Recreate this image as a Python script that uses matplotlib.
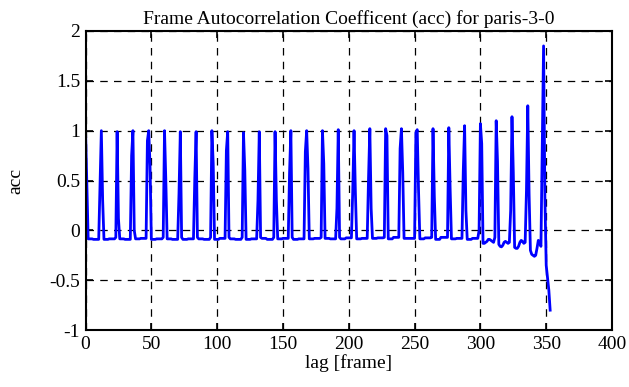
import numpy as np
import matplotlib
matplotlib.use("Agg")
import matplotlib.pyplot as plt

# --- Data (GOP of 12 frames) ---
# acc at lags 0, 12, 24, ..., 348
peaks = [1.0, 1.0, 0.99, 1.0, 1.0, 1.0, 0.99, 0.99, 1.0, 0.99,
         0.98, 0.99, 0.99, 1.0, 1.0, 1.0, 1.01, 1.0, 1.02, 1.02,
         1.02, 1.01, 1.02, 1.03, 1.05, 1.07, 1.10, 1.14, 1.25, 1.85]
# acc at lag 12k-1 (k = 1..29)
pre_peak = [0.47, -0.07, 0.75, 0.9, -0.07, 0.37, 0.52, -0.07, 0.8, -0.07,
            0.3, -0.07, 0.58, 0.79, -0.07, 0.22, 0.39, 0.52, -0.07, 0.82,
            0.98, -0.07, -0.07, 0.6, 0.0, -0.07, 0.2, 0.4, 0.855]
# acc at lag 12k+1 (k = 0..29)
post_peak = [0.45, 0.3, 0.12, 0.0, 0.65, 0.5, -0.07, -0.07, 0.67, -0.07,
             0.6, -0.07, 0.3, -0.07, 0.62, 0.67, -0.07, 0.39, 0.22, 0.95,
             0.58, 0.4, 0.34, 0.42, 0.2, 0.87, 0.69, 0.58, 0.36, 0.34]
# baseline between peaks for cycles 0..24: lags 12k+2..12k+5 and 12k+6..12k+10
base_early = [-0.085, -0.09, -0.085, -0.085, -0.09, -0.085, -0.09, -0.085, -0.09, -0.085,
              -0.09, -0.08, -0.085, -0.09, -0.085, -0.08, -0.085, -0.085, -0.08, -0.085,
              -0.08, -0.085, -0.09, -0.085, -0.09]
base_late = [-0.09, -0.085, -0.09, -0.08, -0.085, -0.09, -0.085, -0.09, -0.08, -0.09,
             -0.085, -0.09, -0.08, -0.085, -0.08, -0.085, -0.075, -0.08, -0.075, -0.07,
             -0.08, -0.075, -0.07, -0.08, -0.08]
# baseline for cycles 25..28, lag by lag (12k+2..12k+10)
base_end = [
    [-0.13, -0.13, -0.12, -0.11, -0.09, -0.09, -0.10, -0.11, -0.12],
    [-0.14, -0.16, -0.165, -0.15, -0.12, -0.11, -0.12, -0.13, -0.12],
    [-0.17, -0.18, -0.18, -0.16, -0.12, -0.10, -0.11, -0.13, -0.12],
    [-0.20, -0.24, -0.25, -0.26, -0.25, -0.18, -0.10, -0.12, -0.16],
]
# lags 350..353
tail = [-0.35, -0.47, -0.6, -0.8]

# --- Assemble the series ---
acc = []
for k in range(len(peaks)):
    acc.append(peaks[k])
    acc.append(post_peak[k])
    if k < len(base_early):
        acc += [base_early[k]] * 4 + [base_late[k]] * 5
        acc.append(pre_peak[k])
    elif k < len(pre_peak):
        acc += base_end[k - len(base_early)]
        acc.append(pre_peak[k])
acc += tail
lag = np.arange(len(acc))

plt.rcParams['font.family'] = ['Liberation Serif', 'DejaVu Serif']
plt.rcParams['axes.unicode_minus'] = False

fig = plt.figure(figsize=(6.29, 3.87), dpi=100)
ax = fig.add_axes([0.136, 0.147, 0.837, 0.773])

ax.plot(lag, acc, color='#0000ff', lw=2.0)

ax.set_xlim(0, 400)
ax.set_ylim(-1, 2)
xt = np.arange(0, 401, 50)
yt = np.arange(-1, 2.01, 0.5)
ax.set_xticks(xt)
ax.set_yticks(yt)
ax.set_xticklabels([f"{v:g}" for v in xt])
ax.set_yticklabels([f"{v:g}" for v in yt])
ax.tick_params(direction='in', length=5, width=1.2, top=True, right=True,
               labelsize=14, pad=4)
ax.grid(True, color='black', linestyle=(0, (6, 5)), lw=0.9)
for s in ax.spines.values():
    s.set_linewidth(1.5)

ax.set_title('Frame Autocorrelation Coefficent (acc) for paris-3-0', fontsize=14, pad=5)
ax.set_xlabel('lag [frame]', fontsize=14, labelpad=1)
ax.set_ylabel('acc', fontsize=14, labelpad=18)

fig.savefig('out.png', dpi=100)
